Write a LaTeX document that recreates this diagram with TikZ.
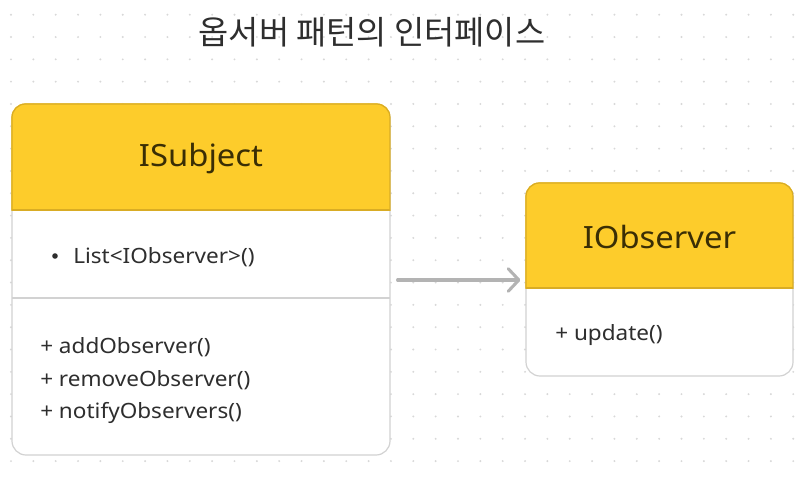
\documentclass[tikz,border=0pt]{standalone}
\usepackage{fontspec}
\setmainfont{Noto Sans}
\newfontfamily\uifont[FakeStretch=1.07]{Noto Sans}
\newfontfamily\krfont{Noto Sans CJK KR}
\usetikzlibrary{arrows.meta}
\definecolor{hdryellow}{HTML}{FDCC2B}
\definecolor{hdrborder}{HTML}{D9AC24}
\definecolor{boxborder}{HTML}{D2D2D2}
\definecolor{dotcol}{HTML}{D8D8D8}
\definecolor{hdrtext}{HTML}{3A2E05}
\definecolor{bodytext}{HTML}{2E2E2E}
\definecolor{arrowcol}{HTML}{B3B3B3}
\tikzset{
  umlbox/.style={draw=boxborder, line width=0.9pt, fill=white, rounded corners=10.5pt, inner sep=0pt},
  hdrlabel/.style={text=hdrtext, font=\uifont\fontsize{23}{28}\selectfont, inner sep=0pt},
  member/.style={text=bodytext, font=\uifont\fontsize{15.8}{19}\selectfont, anchor=west, inner sep=0pt},
  relarrow/.style={draw=arrowcol, line width=2.3pt, line cap=round, -{Straight Barb[length=8pt, width=17pt, line width=2.3pt, round]}},
}
\begin{document}
\begin{tikzpicture}[x=0.75pt, y=-0.75pt]
\useasboundingbox (0,0) rectangle (808,479);
\fill[white] (0,0) rectangle (808,479);
% dot grid
\foreach \i in {0,...,35} {
  \foreach \j in {0,...,20} {
    \fill[dotcol] ({11+22.35*\i},{14.7+22.32*\j}) circle (0.8pt);
  }
}
% title
\node[text=bodytext, font=\krfont\fontsize{24.6}{29}\selectfont, inner sep=0pt] (title) at (372,32) {옵서버 패턴의 인터페이스};

% ISubject box
\node[umlbox, minimum width=283.5pt, minimum height=263.25pt] (subj) at (201,279.5) {};
\begin{scope}
  \clip[rounded corners=10.5pt] (subj.north west) rectangle (subj.south east);
  \fill[hdryellow] (subj.north west) rectangle (390,210);
  \clip (0,0) rectangle (808,210);
  \draw[hdrborder, line width=1.8pt, rounded corners=10.5pt] (subj.north west) rectangle (subj.south east);
\end{scope}
\draw[hdrborder, line width=0.9pt] (12,210) -- (390,210);
\draw[boxborder, line width=0.9pt] (12,298) -- (390,298);
\node[hdrlabel] (subjname) at (201,159) {ISubject};
\fill[bodytext] (55,256) circle (2.1pt);
\node[member] (subjattr) at (73,257.5) {List<IObserver>()};
\node[member] (m1) at (40,347.5) {+ addObserver()};
\node[member] (m2) at (40,380) {+ removeObserver()};
\node[member] (m3) at (40,412.5) {+ notifyObservers()};

% IObserver box
\node[umlbox, minimum width=200.25pt, minimum height=144.75pt] (obs) at (659.5,279.5) {};
\begin{scope}
  \clip[rounded corners=10.5pt] (obs.north west) rectangle (obs.south east);
  \fill[hdryellow] (obs.north west) rectangle (793,288);
  \clip (0,0) rectangle (808,288);
  \draw[hdrborder, line width=1.8pt, rounded corners=10.5pt] (obs.north west) rectangle (obs.south east);
\end{scope}
\draw[hdrborder, line width=0.9pt] (526,288) -- (793,288);
\node[hdrlabel] (obsname) at (659.5,237) {IObserver};
\node[member] (upd) at (555,335.5) {+ update()};

% relation
\draw[relarrow, shorten <=5.25pt, shorten >=3.75pt] (subj.east |- 0,280) -- (obs.west |- 0,280);
\end{tikzpicture}
\end{document}
